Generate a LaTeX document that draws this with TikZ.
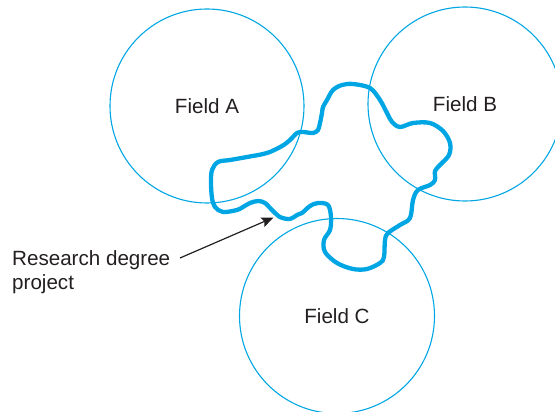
\documentclass[tikz,border=0pt]{standalone}
\usepackage{fontspec}
\setmainfont{Liberation Sans}
\usetikzlibrary{arrows.meta}
\definecolor{fieldblue}{RGB}{0,166,228}
\definecolor{inkgrey}{RGB}{35,31,32}
\begin{document}
\begin{tikzpicture}[x=1pt,y=-1pt,
  field/.style={circle,draw=fieldblue,line width=1.1pt,minimum size=194pt,inner sep=0pt,
    font=\fontsize{20.6}{24}\selectfont,text=inkgrey},
  projpath/.style={draw=fieldblue,line width=4.3pt,line join=round},
  lbltext/.style={font=\fontsize{20.6}{24}\selectfont,text=inkgrey,align=left,inner sep=0pt},
  pointer/.style={draw=inkgrey,line width=1.2pt,-{Stealth[length=12pt,width=10pt,inset=2pt]}}]
\useasboundingbox (0,0) rectangle (555,412);
\clip (0,0) rectangle (555,412);
\node[field] (fa) at (207,106) {Field A};
\node[field] (fb) at (465,104) {Field B};
\node[field,minimum size=195pt] (fc) at (337,316) {Field C};
\draw[projpath] plot[smooth cycle,tension=0.55] coordinates {
 (353,84) (370,88) (380,100) (387,113) (392,122) (400,127) (413,123) (430,123)
 (443,131) (450,143) (449,155) (440,165) (435,171) (435,180) (430,185) (418,190)
 (413,200) (410,218) (400,225) (388,233) (385,240) (384,257) (380,263) (367,269)
 (353,269) (337,263) (325,252) (324,240) (330,230) (331,217) (328,205) (318,203)
 (310,206) (302,213) (297,215) (290,219) (280,217) (272,210) (265,203) (258,201)
 (250,203) (243,207) (237,210) (223,212) (215,207) (212,198) (211,183) (212,170)
 (218,162) (230,160) (247,157) (267,153) (282,146) (290,140) (297,133) (303,132)
 (313,133) (318,130) (320,123) (322,113) (323,107) (327,100) (333,90) (342,85)};
\node[lbltext,anchor=base west] (lbl) at (12,289) {Research degree\\project};
\coordinate (astart) at (180,258);
\coordinate (tip) at (273.5,217.5);
\draw[pointer] (astart) -- (tip);
\end{tikzpicture}
\end{document}
